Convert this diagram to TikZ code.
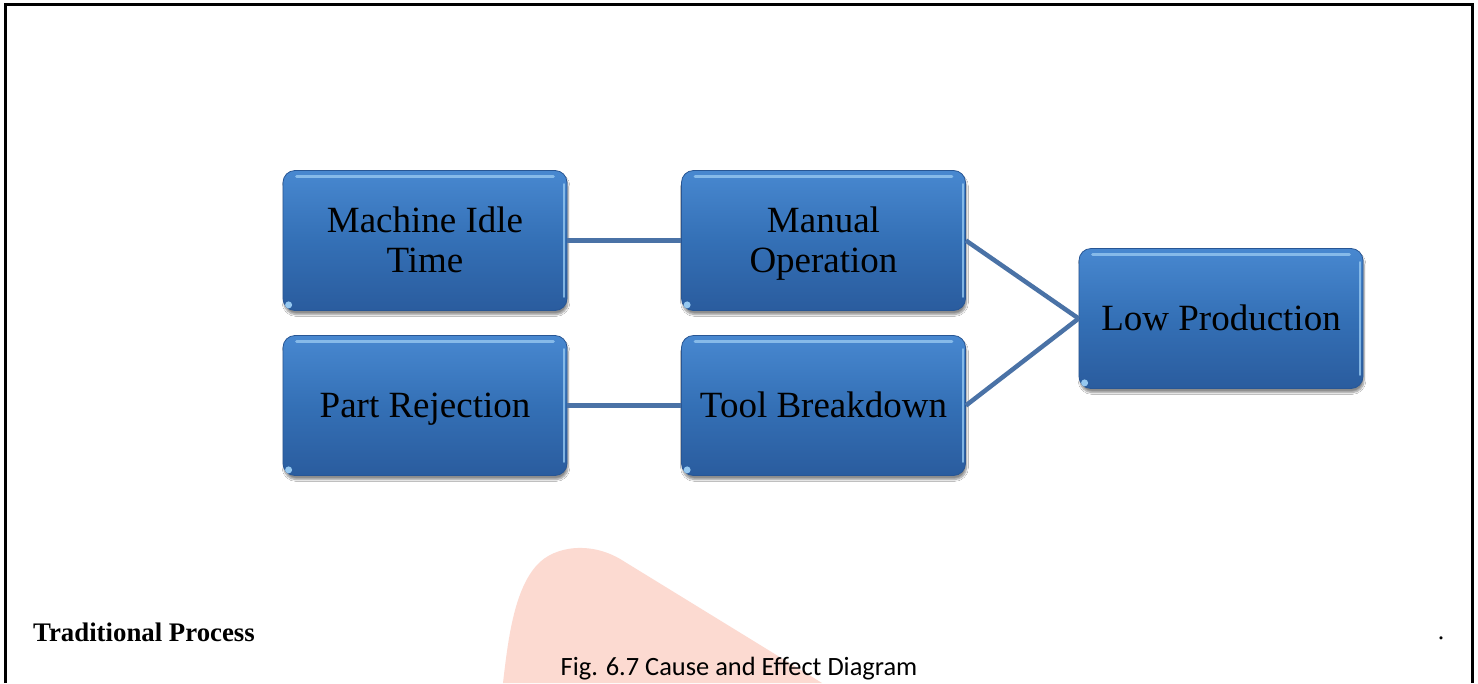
\documentclass[tikz,border=0pt]{standalone}
\usepackage{fontspec}
\setmainfont{Liberation Serif}
\newfontfamily\capfont{Carlito}
\usetikzlibrary{shadows.blur}
\newcommand{\tstrut}{\rule{0pt}{33pt}}
\newcommand{\dstrut}{\rule[-9pt]{0pt}{9pt}}
\definecolor{boxtop}{RGB}{72,136,208}
\definecolor{boxmid}{RGB}{52,112,182}
\definecolor{boxbot}{RGB}{42,92,158}
\definecolor{boxedge}{RGB}{40,86,148}
\definecolor{hilite}{RGB}{150,200,240}
\definecolor{connc}{RGB}{74,114,166}
\definecolor{pinkmark}{RGB}{252,218,209}
\tikzset{
  gbox/.style={rounded corners=12pt, minimum width=284pt, minimum height=140pt,
    top color=boxtop, bottom color=boxbot, middle color=boxmid, draw=boxedge, line width=0.8pt,
    align=center, font=\fontsize{37}{40}\selectfont, text=black,
    blur shadow={shadow xshift=1pt, shadow yshift=-4pt, shadow blur steps=8, shadow opacity=45}},
  conn/.style={draw=connc, line width=4.5pt},
  hl/.style={draw=hilite, line width=3pt, line cap=round, opacity=0.8},
  frameline/.style={draw=black, line width=2.5pt}
}
\begin{document}
\begin{tikzpicture}[x=1pt, y=-1pt]
\useasboundingbox (0,0) rectangle (1478,683);
\fill[white] (0,0) rectangle (1478,683);
% watermark shape
\fill[pinkmark] (503,683) .. controls (508,640) and (514,590) .. (537,565)
  .. controls (554,546) and (592,540) .. (625,562)
  -- (822,683) -- cycle;
% frame
\draw[frameline] (5.5,683) -- (5.5,4.5) -- (1472.5,4.5) -- (1472.5,683);
% boxes
\node[gbox] (mit) at (425,240.5) {\tstrut Machine Idle\\Time\dstrut};
\node[gbox] (mo) at (823.5,240.5) {\tstrut Manual\\Operation\dstrut};
\node[gbox] (pr) at (425,405.5) {\tstrut Part Rejection\dstrut};
\node[gbox] (tb) at (823.5,405.5) {\tstrut Tool Breakdown\dstrut};
\node[gbox] (lp) at (1221,318.5) {\tstrut Low Production\dstrut};
% highlights
\foreach \n in {mit,mo,pr,tb,lp}{
  \draw[hl] ([xshift=14pt,yshift=-6pt]\n.north west) -- ([xshift=-14pt,yshift=-6pt]\n.north east);
  \draw[hl, line width=2pt] ([xshift=-3pt,yshift=-14pt]\n.north east) -- ([xshift=-3pt,yshift=14pt]\n.south east);
  \fill[hilite] ([xshift=6pt,yshift=6pt]\n.south west) circle (3.5pt);
}
% connectors
\draw[conn] (mit.east) -- (mo.west);
\draw[conn] (pr.east) -- (tb.west);
\draw[conn] (mo.east) -- (lp.west);
\draw[conn] (tb.east) -- (lp.west);
% texts
\node[anchor=base west, inner sep=0pt, font=\fontsize{26.8}{30}\selectfont\bfseries] (tp) at (33,641) {Traditional Process};
\node[anchor=base, inner sep=0pt, font=\fontsize{26}{30}\selectfont] (dot) at (1441,639) {.};
\node[anchor=base, inner sep=0pt, font=\capfont\fontsize{26.4}{30}\selectfont] (cap) at (739,675) {Fig. 6.7 Cause and Effect Diagram};
\end{tikzpicture}
\end{document}
